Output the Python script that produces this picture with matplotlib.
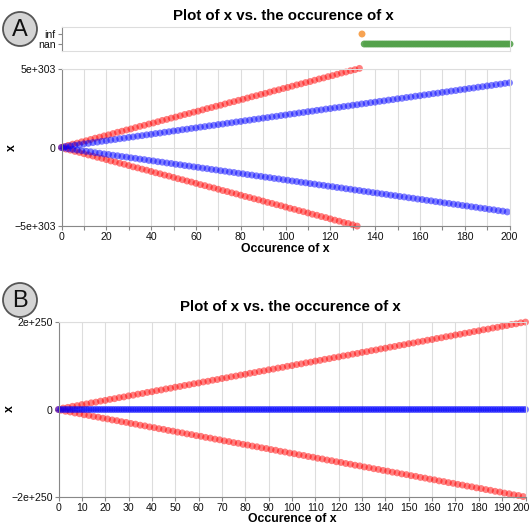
import numpy as np
import matplotlib
matplotlib.use("Agg")
import matplotlib.pyplot as plt
import matplotlib.transforms as mtransforms
from matplotlib.patches import Circle

plt.rcParams['font.family'] = ['Liberation Sans', 'DejaVu Sans']

# signed log10 of |x|, one entry per occurrence
# panel A, red: finite for occurrences 0..133
red_a_exp = [
    0, 2, -5, 7, -9, 12, -14, 16, -18, 21,
    -23, 25, -28, 30, -32, 35, -37, 39, -41, 44,
    -46, 48, -51, 53, -55, 58, -60, 62, -64, 67,
    -69, 71, -74, 76, -78, 81, -83, 85, -87, 90,
    -92, 94, -97, 99, -101, 104, -106, 108, -110, 113,
    -115, 117, -120, 122, -124, 127, -129, 131, -133, 136,
    -138, 140, -143, 145, -147, 150, -152, 154, -156, 159,
    -161, 163, -166, 168, -170, 173, -175, 177, -179, 182,
    -184, 186, -189, 191, -193, 196, -198, 200, -202, 205,
    -207, 209, -212, 214, -216, 219, -221, 223, -225, 228,
    -230, 232, -235, 237, -239, 242, -244, 246, -248, 251,
    -253, 255, -258, 260, -262, 265, -267, 269, -271, 274,
    -276, 278, -281, 283, -285, 288, -290, 292, -294, 297,
    -299, 301, -304, 306,
]
# occurrence 134 is inf, 135..200 are nan
red_a_tail = [np.inf] + [np.nan] * 66

# panel A, blue: occurrences 0..200
blue_a_exp = [
    0, -1, 3, -4, 5, -6, 8, -9,
    10, -11, 13, -14, 15, -16, 18, -19,
    20, -21, 23, -24, 25, -26, 28, -29,
    30, -31, 33, -34, 35, -36, 38, -39,
    40, -41, 43, -44, 45, -46, 48, -49,
    50, -51, 53, -54, 55, -56, 58, -59,
    60, -61, 63, -64, 65, -66, 68, -69,
    70, -71, 73, -74, 75, -76, 78, -79,
    80, -81, 83, -84, 85, -86, 88, -89,
    90, -91, 93, -94, 95, -96, 98, -99,
    100, -101, 103, -104, 105, -106, 108, -109,
    110, -111, 113, -114, 115, -116, 118, -119,
    120, -121, 123, -124, 125, -126, 128, -129,
    130, -131, 133, -134, 135, -136, 138, -139,
    140, -141, 143, -144, 145, -146, 148, -149,
    150, -151, 153, -154, 155, -156, 158, -159,
    160, -161, 163, -164, 165, -166, 168, -169,
    170, -171, 173, -174, 175, -176, 178, -179,
    180, -181, 183, -184, 185, -186, 188, -189,
    190, -191, 193, -194, 195, -196, 198, -199,
    200, -201, 203, -204, 205, -206, 208, -209,
    210, -211, 213, -214, 215, -216, 218, -219,
    220, -221, 223, -224, 225, -226, 228, -229,
    230, -231, 233, -234, 235, -236, 238, -239,
    240, -241, 243, -244, 245, -246, 248, -249,
    250,
]

# panel B, red follows the same track as blue in A
red_b_exp = blue_a_exp
# panel B, blue stays at 0
blue_b = [0.0] * 201


def to_val(exps):
    e = np.array(exps, dtype=float)
    return np.sign(e) * 10.0 ** np.abs(e)


red_a = np.concatenate([to_val(red_a_exp), red_a_tail])
blue_a = to_val(blue_a_exp)
red_b = to_val(red_b_exp)
blue_b = np.array(blue_b)

W, H = 530, 525
fig = plt.figure(figsize=(W / 100, H / 100), dpi=100)


def box(l, t, r, b):
    return [l / W, 1 - b / H, (r - l) / W, (b - t) / H]


def style(ax):
    for s in ['top', 'right']:
        ax.spines[s].set_color('#dddddd')
    for s in ['left', 'bottom']:
        ax.spines[s].set_color('#888888')
    for s in ax.spines.values():
        s.set_linewidth(0.8)
    ax.tick_params(length=3.2, width=0.8, color='#888888', labelsize=7.6,
                   labelcolor='#111111', pad=1)
    ax.set_axisbelow(True)


MS = 25

# ---- panel A strip (inf / nan)
ax_s = fig.add_axes(box(61.5, 27, 510, 51))
style(ax_s)
ax_s.spines['bottom'].set_color('#dddddd')
n_a = np.arange(len(red_a))
m_inf = np.isinf(red_a)
m_nan = np.isnan(red_a)
ax_s.scatter(n_a[m_inf], np.ones(m_inf.sum()), s=MS, color='#f58518', alpha=0.75,
             edgecolors='none', clip_on=False)
ax_s.scatter(n_a[m_nan], np.zeros(m_nan.sum()), s=MS, color='#54a24b', alpha=0.9,
             edgecolors='none', clip_on=False)
ax_s.set_xlim(0, 200)
ax_s.set_ylim(-0.7, 1.7)
ax_s.set_xticks([])
ax_s.set_yticks([0, 1])
ax_s.set_yticklabels(['nan', 'inf'])

# ---- panel A main
ax_a = fig.add_axes(box(61.5, 69, 509.5, 226))
style(ax_a)
fin = np.isfinite(red_a)
ax_a.scatter(n_a[fin], red_a[fin], s=MS, color='red', alpha=0.5, edgecolors='none',
             clip_on=False)
ax_a.scatter(np.arange(len(blue_a)), blue_a, s=MS, color='blue', alpha=0.5,
             edgecolors='none', clip_on=False)
ax_a.set_yscale('symlog', linthresh=1)
ax_a.set_ylim(-5e303, 5e303)
ax_a.set_yticks([-5e303, 0, 5e303])
ax_a.set_yticklabels(['\u22125e+303', '0', '5e+303'])
ax_a.yaxis.set_minor_locator(matplotlib.ticker.NullLocator())
ax_a.set_xlim(0, 200)
ax_a.set_xticks(range(0, 201, 10))
ax_a.set_xticklabels([str(v) if v % 20 == 0 else '' for v in range(0, 201, 10)])
ax_a.grid(True, color='#dddddd', linewidth=0.8)

# ---- panel B main
ax_b = fig.add_axes(box(58.5, 322, 525.5, 497))
style(ax_b)
ax_b.scatter(np.arange(len(red_b)), red_b, s=MS, color='red', alpha=0.5,
             edgecolors='none', clip_on=False)
ax_b.scatter(np.arange(len(blue_b)), blue_b, s=MS, color='blue', alpha=0.5,
             edgecolors='none', clip_on=False)
ax_b.set_yscale('symlog', linthresh=1)
ax_b.set_ylim(-2e250, 2e250)
ax_b.set_yticks([-2e250, 0, 2e250])
ax_b.set_yticklabels(['\u22122e+250', '0', '2e+250'])
ax_b.yaxis.set_minor_locator(matplotlib.ticker.NullLocator())
ax_b.set_xlim(0, 200)
ax_b.set_xticks(range(0, 201, 10))
ax_b.grid(True, color='#dddddd', linewidth=0.8)
# nudge the last tick label so it stays inside the figure
last = ax_b.get_xticklabels()[-1]
last.set_transform(last.get_transform() +
                   mtransforms.ScaledTranslation(-4 / 100, 0, fig.dpi_scale_trans))

# ---- overlay in pixel units for titles and panel badges
ov = fig.add_axes([0, 0, 1, 1])
ov.set_xlim(0, W)
ov.set_ylim(H, 0)
ov.axis('off')
ov.patch.set_alpha(0)

for lab, cy in [('A', 29), ('B', 300)]:
    ov.add_patch(Circle((20, cy), 17, facecolor='#d4d4d4', edgecolor='#555555', lw=1.3))
    ov.text(20, cy + 1, lab, ha='center', va='center', fontsize=17, color='#111111')

ov.text(283, 16, 'Plot of x vs. the occurence of x', ha='center', va='center',
        fontsize=10.8, fontweight='bold')
ov.text(290, 307, 'Plot of x vs. the occurence of x', ha='center', va='center',
        fontsize=10.8, fontweight='bold')
ov.text(285, 249, 'Occurence of x', ha='center', va='center', fontsize=8.8,
        fontweight='bold')
ov.text(292, 519, 'Occurence of x', ha='center', va='center', fontsize=8.8,
        fontweight='bold')
ov.text(12, 148, 'x', ha='center', va='center', fontsize=8.8, fontweight='bold',
        rotation=90)
ov.text(10, 409, 'x', ha='center', va='center', fontsize=8.8, fontweight='bold',
        rotation=90)

fig.savefig('out.png', dpi=100)
